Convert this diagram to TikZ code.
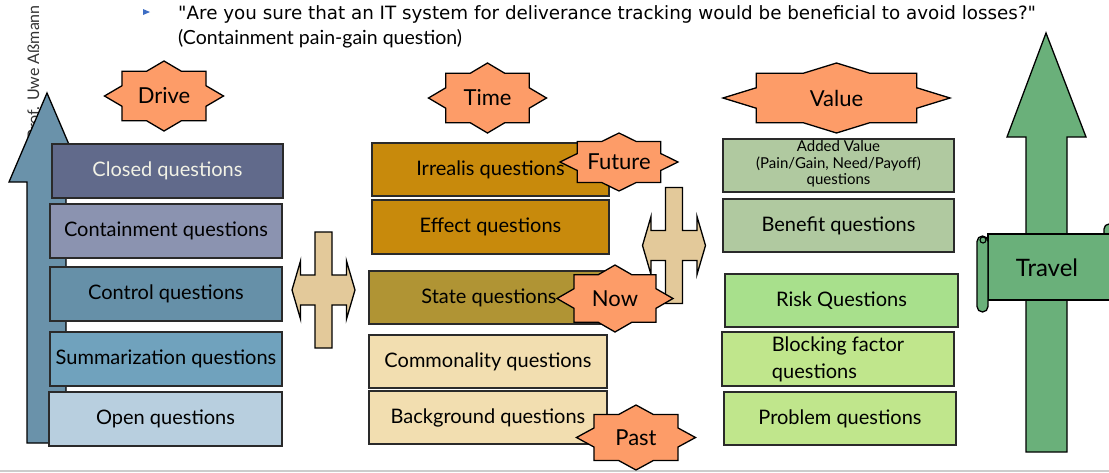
\documentclass[tikz,border=0pt]{standalone}
\usepackage{fontspec}
\setmainfont{Lato}
\newfontfamily\quotefont{DejaVu Sans}
\definecolor{closedc}{HTML}{616A8B}
\definecolor{contc}{HTML}{8B93B0}
\definecolor{ctrlc}{HTML}{6690A8}
\definecolor{summc}{HTML}{70A2BD}
\definecolor{openc}{HTML}{B8CFDF}
\definecolor{bluearrow}{HTML}{6A92AA}
\definecolor{irrc}{HTML}{C88A0C}
\definecolor{statec}{HTML}{B09434}
\definecolor{commc}{HTML}{F2DEB0}
\definecolor{starc}{HTML}{FD9C68}
\definecolor{crossc}{HTML}{E3C99A}
\definecolor{addc}{HTML}{B0C9A0}
\definecolor{riskc}{HTML}{A8E08C}
\definecolor{blockc}{HTML}{C0E68C}
\definecolor{greenc}{HTML}{6AB07A}
\definecolor{bulletc}{HTML}{3D6DC4}
\definecolor{closedtext}{HTML}{F2F2E6}
\definecolor{boxline}{HTML}{2A2A2A}
\definecolor{footline}{HTML}{CCCCCC}
\newcommand\starshape[4]{%
  \draw[starst] ({#1+#3},#2) \foreach \ang in {0,45,...,315} { -- ({#1+0.765*#3*cos(\ang+22.5)},{#2+0.765*#4*sin(\ang+22.5)}) -- ({#1+#3*cos(\ang+45)},{#2+#4*sin(\ang+45)}) } -- cycle;}
\newcommand\crossshape[2]{%
  \draw[crossst, shift={(#1,#2)}] (-8.5,-58) -- (8.5,-58) -- (8.5,-15) -- (23,-15) -- (23,-29) -- (31.5,0) -- (23,29) -- (23,15) -- (8.5,15) -- (8.5,58) -- (-8.5,58) -- (-8.5,15) -- (-23,15) -- (-23,29) -- (-31.5,0) -- (-23,-29) -- (-23,-15) -- (-8.5,-15) -- cycle;}
\begin{document}
\begin{tikzpicture}[x=1pt,y=-1pt,
  qbox/.style={draw=boxline, line width=1.1pt, inner sep=0pt, font=\fontsize{20}{24}\selectfont, text=black},
  startext/.style={font=\fontsize{22}{26}\selectfont, inner sep=0pt},
  starst/.style={draw=black, line width=1.3pt, fill=starc, line join=miter},
  crossst/.style={draw=black, line width=1.3pt, fill=crossc, line join=miter},
  bigarrow/.style={draw=black, line width=1.3pt, line join=miter}]
\useasboundingbox (0,0) rectangle (1109,472);
\clip (0,0) rectangle (1109,472);
% header
\fill[bulletc] (143,9) -- (150,12) -- (143,15) -- cycle;
\node[anchor=base west, inner sep=0pt, font=\quotefont\fontsize{18.3}{21}\selectfont] (quote) at (178,19) {"Are you sure that an IT system for deliverance tracking would be beneficial to avoid losses?"};
\node[anchor=base west, inner sep=0pt, font=\fontsize{19.5}{23}\selectfont] (sub) at (178,44) {(Containment pain-gain question)};
\node[rotate=90, anchor=base east, inner sep=0pt, font=\fontsize{16}{18}\selectfont, text=black!80] (author) at (39,5) {Prof. Uwe Aßmann};
% footer line
\draw[footline, line width=1.5pt] (0,471) -- (1109,471);
% big blue arrow
\draw[bigarrow, fill=bluearrow] (47,93) -- (85,182) -- (66,182) -- (66,443) -- (27,443) -- (27,182) -- (9,182) -- cycle;
% left column
\node[qbox, fill=closedc, text=closedtext, minimum width=231pt, minimum height=54pt] (closed) at (167.5,171) {Closed questions};
\node[qbox, fill=contc, minimum width=232pt, minimum height=54pt] (containment) at (166,231) {Containment questions};
\node[qbox, fill=ctrlc, minimum width=232pt, minimum height=54pt] (control) at (166,294) {Control questions};
\node[qbox, fill=summc, minimum width=232pt, minimum height=54pt] (summ) at (166,359) {Summarization questions};
\node[qbox, fill=openc, minimum width=233pt, minimum height=54pt] (open) at (165.5,419) {Open questions};
\crossshape{323.5}{290}
% middle column
\node[qbox, fill=irrc, minimum width=237pt, minimum height=53pt] (irrealis) at (490.5,169.5) {Irrealis questions};
\node[qbox, fill=irrc, minimum width=237pt, minimum height=54pt] (effect) at (490.5,227) {Effect questions};
\node[qbox, fill=statec, minimum width=240pt, minimum height=53pt] (state) at (489,297.5) {State questions};
\node[qbox, fill=commc, minimum width=238pt, minimum height=53pt] (common) at (488,361.5) {Commonality questions};
\node[qbox, fill=commc, minimum width=238pt, minimum height=53pt] (background) at (488,417.5) {Background questions};
\crossshape{674}{245.5}
% right column
\node[qbox, fill=addc, minimum width=231pt, minimum height=53pt] (added) at (838.5,165.5) {};
\node[align=center, inner sep=0pt, font=\fontsize{15}{16.5}\selectfont] (addedtext) at (838.5,164) {Added Value\\(Pain/Gain, Need/Payoff)\\questions};
\node[qbox, fill=addc, minimum width=231pt, minimum height=53pt] (benefit) at (838.5,225.5) {Benefit questions};
\node[qbox, fill=riskc, minimum width=233pt, minimum height=53pt] (risk) at (841.5,300.5) {Risk Questions};
\node[qbox, fill=blockc, minimum width=232pt, minimum height=54pt, align=left, font=\fontsize{20}{27}\selectfont] (blocking) at (838,359) {Blocking factor\\questions};
\node[qbox, fill=blockc, minimum width=232pt, minimum height=53pt] (problem) at (840,418.5) {Problem questions};
% stars
\starshape{164}{96}{59.5}{35}
\node[startext] (drive) at (164,96) {Drive};
\starshape{487.5}{98}{59}{35}
\node[startext] (time) at (487.5,98) {Time};
\starshape{836.5}{98}{113.5}{35}
\node[startext] (value) at (836.5,98) {Value};
\starshape{619}{162}{59}{29}
\node[startext] (future) at (619,162) {Future};
\starshape{615}{298.5}{58}{33.5}
\node[startext] (now) at (615,298.5) {Now};
\starshape{636}{437.5}{59.5}{32.5}
\node[startext] (past) at (636,437.5) {Past};
% green arrow and scroll
\draw[bigarrow, fill=greenc] (1046,33) -- (1086,137) -- (1067,137) -- (1067,452) -- (1026,452) -- (1026,137) -- (1007,137) -- cycle;
\draw[bigarrow, fill=greenc, rounded corners=5] (1104,224) rectangle (1130,250);
\draw[bigarrow, fill=greenc] (988,234) rectangle (1130,300);
\draw[bigarrow, fill=greenc, rounded corners=5.5] (977,236) rectangle (988,312);
\draw[black, line width=1.1pt] (983,240) circle[radius=3];
\node[inner sep=0pt, font=\fontsize{24}{28}\selectfont] (travel) at (1047,268) {Travel};
\end{tikzpicture}
\end{document}
